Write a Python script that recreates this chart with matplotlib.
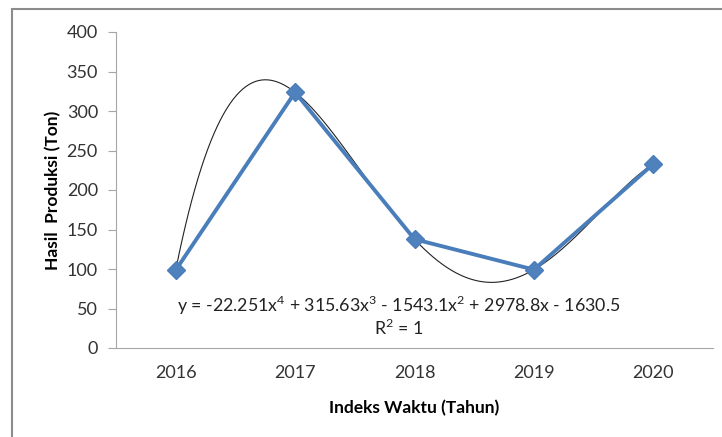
import matplotlib.pyplot as plt
import numpy as np
from matplotlib.patches import Rectangle

# data
tahun = ['2016', '2017', '2018', '2019', '2020']
produksi = [98.6, 323.7, 137.7, 99.2, 232.9]
persamaan = 'y = -22.251x$^4$ + 315.63x$^3$ - 1543.1x$^2$ + 2978.8x - 1630.5'
r2 = 'R$^2$ = 1'

plt.rcParams['font.family'] = ['Lato', 'DejaVu Sans']
plt.rcParams['mathtext.fontset'] = 'custom'
plt.rcParams['mathtext.rm'] = 'Lato'

W, H = 722, 437
fig = plt.figure(figsize=(W / 100, H / 100), dpi=100)
ax = fig.add_axes([116 / W, 1 - 348 / H, (713 - 116) / W, (348 - 32) / H])

# outer chart frame
fig.patches.append(Rectangle((12 / W, -0.05), 1.1, 1 - 9 / H + 0.05, transform=fig.transFigure,
                             fill=False, edgecolor='#8c8c8c', linewidth=1.5))

x = np.arange(1, len(tahun) + 1)
coef = np.polyfit(x, produksi, 4)
xs = np.linspace(1, 5, 300)
ax.plot(xs, np.polyval(coef, xs), color='#222222', linewidth=0.8, zorder=2)
ax.plot(x, produksi, color='#4A7EBB', linewidth=2.8, marker='D', markersize=9,
        markerfacecolor='#4F81BD', markeredgecolor='#4A7EBB', zorder=3)

ax.set_xlim(0.5, 5.5)
ax.set_ylim(0, 400)
ax.set_yticks(range(0, 401, 50))
ax.set_xticks(x)
ax.set_xticklabels(tahun)

for s in ['top', 'right']:
    ax.spines[s].set_visible(False)
for s in ['left', 'bottom']:
    ax.spines[s].set_color('#a6a6a6')
ax.tick_params(axis='y', length=6, color='#a6a6a6', labelsize=13, pad=7, labelcolor='#333333')
ax.tick_params(axis='x', length=0, labelsize=13, pad=12, labelcolor='#333333')

ax.text(2.87, 54, persamaan, ha='center', va='center', fontsize=12.8, color='#222222')
ax.text(2.87, 25, r2, ha='center', va='center', fontsize=12.8, color='#222222')

ax.set_ylabel('Hasil  Produksi (Ton)', fontsize=12.5, fontweight='bold', labelpad=4)
ax.set_xlabel('Indeks Waktu (Tahun)', fontsize=12.5, fontweight='bold', labelpad=14)

fig.savefig('out.png', dpi=100)
